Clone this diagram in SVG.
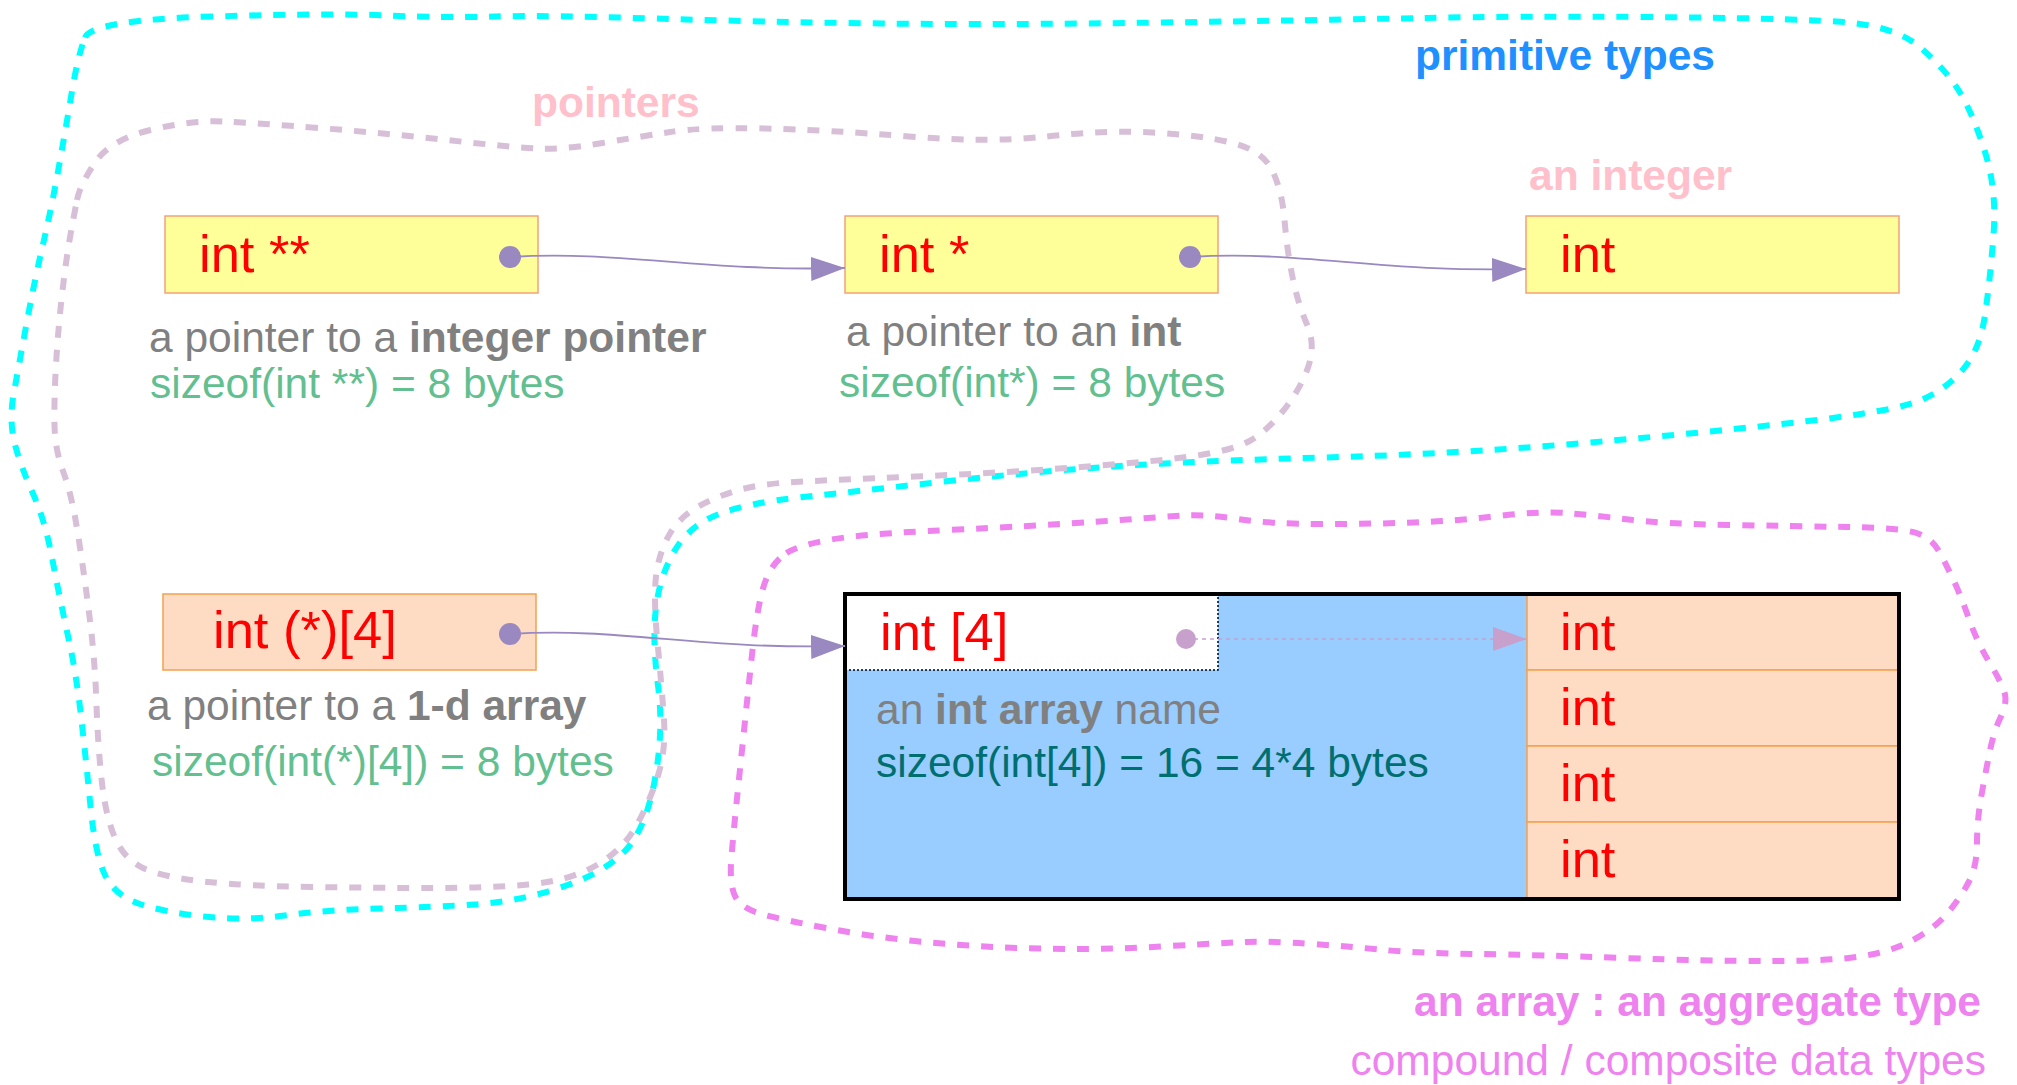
<svg xmlns="http://www.w3.org/2000/svg" width="2017" height="1085" viewBox="0 0 2017 1085">
<style>
text{font-family:"Liberation Sans",Arial,sans-serif}
.blob{fill:none;stroke-width:6;stroke-dasharray:12 12}
.cy{stroke:#00FFFF}
.li{stroke:#D8BFD8}
.vi{stroke:#EE82EE}
.lbl{font-size:52.5px;fill:#FF0000}
.desc{font-size:42.5px;fill:#808080}
.size{font-size:42.5px;fill:#62C090}
.ybox{fill:#FFFF99;stroke:#F4A07A;stroke-width:1.5}
.pbox{fill:#FDDCC3;stroke:#F5A050;stroke-width:1.5}
.dot{fill:#9A88C0}
.conn{fill:none;stroke:#9A88C0;stroke-width:1.8}
</style>
<defs>
<marker id="ah" markerUnits="userSpaceOnUse" markerWidth="34" markerHeight="24" refX="34" refY="12" orient="auto"><path d="M0,0 L34,12 L0,24 z" fill="#9A88C0"/></marker>
<marker id="ah2" markerUnits="userSpaceOnUse" markerWidth="34" markerHeight="24" refX="34" refY="12" orient="auto"><path d="M0,0 L34,12 L0,24 z" fill="#C8A0CC"/></marker>
</defs>
<rect width="2017" height="1085" fill="#FFFFFF"/>
<g id="clusters">
<path class="blob cy" d="M85,37.5 Q92,20 212,16.5 Q332,13 389,15.5 Q446,18 494,16.5 Q542,15 653.5,18.5 Q765,22 882.5,23.5 Q1000,25 1162,22.5 Q1324,20 1421.5,18 Q1519,16 1648.5,17 Q1778,18 1836.5,21.5 Q1895,25 1921,48 Q1947,71 1960,92.5 Q1973,114 1985,152 Q1997,190 1993.5,235 Q1990,280 1985,315 Q1980,350 1962.5,370 Q1945,390 1920,400.5 Q1895,411 1804,421.5 Q1713,432 1583.5,443 Q1454,454 1324.5,457.5 Q1195,461 1112.5,466.5 Q1030,472 940,482 Q850,492 799,497.5 Q748,503 719,514 Q690,525 675,550 Q660,575 656,607.5 Q652,640 658,685.5 Q664,731 654.5,781.5 Q645,832 622.5,853.5 Q600,875 557.5,888.5 Q515,902 474.5,904.5 Q434,907 379.5,908.5 Q325,910 284.5,915.5 Q244,921 203.5,916.5 Q163,912 138.5,903.5 Q114,895 104.5,874 Q95,853 90.5,806.5 Q86,760 81,716 Q76,672 68,636 Q60,600 52.5,560 Q45,520 32.5,492.5 Q20,465 14.5,442.5 Q9,420 13.5,395 Q18,370 26,326.5 Q34,283 42.5,246.5 Q51,210 58,171.5 Q65,133 71.5,94 Q78,55 85,37.5 Z"/>
<path class="blob li" d="M77,200 Q80,185 95,162.5 Q110,140 150.5,130 Q191,120 223,121.5 Q255,123 319,128 Q383,133 446.5,140 Q510,147 535.5,148.5 Q561,150 599.5,143.5 Q638,137 670,132 Q702,127 765.5,128.5 Q829,130 909,136.5 Q989,143 1046.5,136.5 Q1104,130 1152,132.5 Q1200,135 1231,142.5 Q1262,150 1272,170 Q1282,190 1284.5,220 Q1287,250 1292.5,277 Q1298,304 1307,324.5 Q1316,345 1308,367.5 Q1300,390 1283,411 Q1266,432 1249.5,441 Q1233,450 1197.5,455.5 Q1162,461 1081,467 Q1000,473 915,476.5 Q830,480 794.5,482 Q759,484 737,490.5 Q715,497 697.5,507 Q680,517 670,533.5 Q660,550 656.5,572.5 Q653,595 657.5,642.5 Q662,690 664,720 Q666,750 658,775.5 Q650,801 636.5,825.5 Q623,850 596,865.5 Q569,881 528.5,884.5 Q488,888 433.5,888 Q379,888 311.5,887 Q244,886 203.5,881.5 Q163,877 144,868.5 Q125,860 115.5,839 Q106,818 102,783 Q98,748 96.5,704.5 Q95,661 90,620.5 Q85,580 78.5,537.5 Q72,495 63.5,472.5 Q55,450 54.5,425 Q54,400 56,365 Q58,330 62,295 Q66,260 70,237.5 Q74,215 77,200 Z"/>
<path class="blob vi" d="M786.5,553 Q797,546 828.5,540 Q860,534 948,530 Q1036,526 1099,521.5 Q1162,517 1183,515.5 Q1204,514 1237.5,519 Q1271,524 1321.5,524 Q1372,524 1414,522.5 Q1456,521 1498,516 Q1540,511 1565.5,513 Q1591,515 1628.5,519.5 Q1666,524 1729,525 Q1792,526 1847,527 Q1902,528 1916.5,533 Q1931,538 1937.5,549 Q1944,560 1952.5,578 Q1961,596 1969,619 Q1977,642 1990,663.5 Q2003,685 2005,694.5 Q2007,704 2000.5,717.5 Q1994,731 1990,750.5 Q1986,770 1981.5,795 Q1977,820 1977,843 Q1977,866 1969,881.5 Q1961,897 1948,912.5 Q1935,928 1914,939.5 Q1893,951 1863.5,956 Q1834,961 1771,961 Q1708,961 1624,958 Q1540,955 1477,954 Q1414,953 1384.5,950 Q1355,947 1313,944 Q1271,941 1246,942 Q1221,943 1170.5,946 Q1120,949 1078,949 Q1036,949 994,947 Q952,945 910,940.5 Q868,936 826,928 Q784,920 763,914.5 Q742,909 735.5,897 Q729,885 731.5,856 Q734,827 738,788.5 Q742,750 746,711.5 Q750,673 752.5,650 Q755,627 759,605.5 Q763,584 769.5,572 Q776,560 786.5,553 Z"/>
<text x="1415" y="70" font-size="42.5" font-weight="bold" fill="#1E90FF">primitive types</text>
<text x="532" y="117" font-size="42.5" font-weight="bold" fill="#FFC0CB">pointers</text>
<text x="1981" y="1016" font-size="42.5" font-weight="bold" fill="#EE82EE" text-anchor="end">an array : an aggregate type</text>
<text x="1986" y="1075" font-size="42.5" fill="#EE82EE" text-anchor="end">compound / composite data types</text>
</g>
<g id="node-intpp">
<rect class="ybox" x="165" y="216" width="373" height="77"/>
<text class="lbl" x="199" y="272">int **</text>
<circle class="dot" cx="510" cy="257" r="11"/>
<text class="desc" x="149" y="352">a pointer to a <tspan font-weight="bold">integer pointer</tspan></text>
<text class="size" x="150" y="398">sizeof(int **) = 8 bytes</text>
</g>
<g id="node-intp">
<rect class="ybox" x="845" y="216" width="373" height="77"/>
<text class="lbl" x="879" y="272">int *</text>
<circle class="dot" cx="1190" cy="257" r="11"/>
<text class="desc" x="846" y="346">a pointer to an <tspan font-weight="bold">int</tspan></text>
<text class="size" x="839" y="397">sizeof(int*) = 8 bytes</text>
</g>
<g id="node-int">
<text x="1529" y="190" font-size="42.5" font-weight="bold" fill="#FFC0CB">an integer</text>
<rect class="ybox" x="1526" y="216" width="373" height="77"/>
<text class="lbl" x="1560" y="272">int</text>
</g>
<g id="node-intparr">
<rect class="pbox" x="163" y="594" width="373" height="76"/>
<text class="lbl" x="213" y="648">int (*)[4]</text>
<circle class="dot" cx="510" cy="634" r="11"/>
<text class="desc" x="147" y="720">a pointer to a <tspan font-weight="bold">1-d array</tspan></text>
<text class="size" x="152" y="776">sizeof(int(*)[4]) = 8 bytes</text>
</g>
<g id="node-intarr">
<rect x="845" y="594" width="682" height="305" fill="#99CCFF"/>
<rect x="845" y="594" width="373" height="76" fill="#FFFFFF"/>
<path d="M845,670 H1218 V594" fill="none" stroke="#000000" stroke-width="1.5" stroke-dasharray="2 2"/>
<text class="lbl" x="880" y="650">int [4]</text>
<circle cx="1186" cy="639" r="10" fill="#C8A0CC"/>
<text class="desc" x="876" y="724">an <tspan font-weight="bold">int array</tspan> name</text>
<text x="876" y="777" font-size="42.5" fill="#006F6F">sizeof(int[4]) = 16 = 4*4 bytes</text>
<rect class="pbox" x="1527" y="594" width="372" height="76"/>
<rect class="pbox" x="1527" y="670" width="372" height="76"/>
<rect class="pbox" x="1527" y="746" width="372" height="76"/>
<rect class="pbox" x="1527" y="822" width="372" height="77"/>
<text class="lbl" x="1560" y="650">int</text>
<text class="lbl" x="1560" y="725">int</text>
<text class="lbl" x="1560" y="801">int</text>
<text class="lbl" x="1560" y="877">int</text>
<rect x="845" y="594" width="1054" height="305" fill="none" stroke="#000000" stroke-width="4"/>
</g>
<g id="connectors">
<path class="conn" d="M510,257 C620,250 700,272 845,268" marker-end="url(#ah)"/>
<path class="conn" d="M1190,257 C1300,250 1380,273 1526,269" marker-end="url(#ah)"/>
<path class="conn" d="M510,634 C620,627 700,650 845,646" marker-end="url(#ah)"/>
<path d="M1186,639 L1527,639" fill="none" stroke="#C8A0CC" stroke-width="1.5" stroke-dasharray="4 4" marker-end="url(#ah2)"/>
</g>
</svg>
